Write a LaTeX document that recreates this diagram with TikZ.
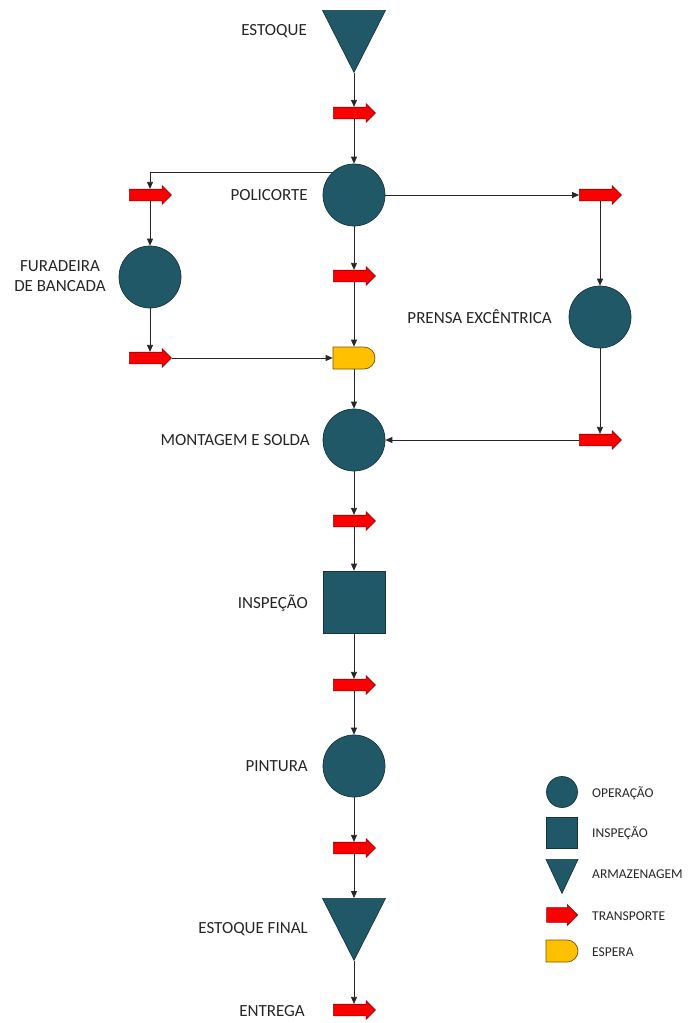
\documentclass[tikz,border=0pt]{standalone}
\usepackage{fontspec}
\setmainfont{Carlito}
\usetikzlibrary{shapes.geometric,shapes.arrows,shapes.misc,arrows.meta}

\definecolor{opteal}{RGB}{33,88,103}
\definecolor{opedge}{RGB}{22,52,62}
\definecolor{trred}{RGB}{250,0,0}
\definecolor{tredge}{RGB}{150,0,0}
\definecolor{waitfill}{RGB}{255,192,0}
\definecolor{waitedge}{RGB}{120,85,0}
\definecolor{labelgray}{RGB}{38,38,38}

\tikzset{
  operation/.style={circle, fill=opteal, draw=opedge, line width=0.7pt,
    minimum size=62, inner sep=0pt},
  inspection/.style={rectangle, fill=opteal, draw=opedge, line width=0.7pt,
    minimum size=62, inner sep=0pt},
  storage/.style={isosceles triangle, isosceles triangle stretches,
    shape border rotate=270, fill=opteal, draw=opedge, line width=0.7pt,
    minimum width=63, minimum height=62, inner sep=0pt, anchor=lower side},
  % the shaft midpoint sits a little left of the arrow's middle
  transport/.style={single arrow, fill=trred, draw=tredge, line width=0.6pt,
    minimum height=42, inner xsep=0pt, inner ysep=5.5pt,
    single arrow head extend=3.5, xshift=-2.5pt},
  waiting/.style={rounded rectangle, rounded rectangle left arc=none,
    fill=waitfill, draw=waitedge, line width=0.7pt,
    minimum width=42, minimum height=22, inner sep=0pt},
  steplabel/.style={text=labelgray, font=\fontsize{17}{19.5}\selectfont, inner sep=0pt},
  keylabel/.style={text=labelgray, font=\fontsize{13.5}{16}\selectfont, inner sep=0pt, anchor=west},
  flow/.style={draw=black!85, line width=0.8pt, -{Triangle[length=7,width=6]}},
}

\begin{document}
\begin{tikzpicture}[x=1pt, y=-1pt]
\useasboundingbox (0,0) rectangle (691,1023);

% main column
\node[storage] (est) at (354,10) {};
\node[transport] (t1) at (354,113) {};
\node[operation] (pc) at (354,195) {};
\node[transport] (t4) at (354,276) {};
\node[waiting] (esp) at (354,358) {};
\node[operation] (mont) at (354,440) {};
\node[transport] (t7) at (354,521) {};
\node[inspection] (insp) at (354,602) {};
\node[transport] (t8) at (354,685) {};
\node[operation] (pin) at (354,766) {};
\node[transport] (t9) at (354,848) {};
\node[storage] (estf) at (354,898) {};
\node[transport] (t10) at (354,1010) {};

% left branch
\node[transport] (t2) at (150,195) {};
\node[operation] (fur) at (150,277) {};
\node[transport] (t3) at (150,358) {};

% right branch
\node[transport] (t5) at (600,195) {};
\node[operation] (pr) at (600,317) {};
\node[transport] (t6) at (600,440) {};

% step labels
\node[steplabel, anchor=east] (l1) at (307,31) {ESTOQUE};
\node[steplabel, anchor=east] (l2) at (308,195) {POLICORTE};
\node[steplabel, align=center] (l3) at (60,276) {FURADEIRA\\DE BANCADA};
\node[steplabel, anchor=east] (l4) at (552,317) {PRENSA EXCÊNTRICA};
\node[steplabel, anchor=east] (l5) at (310,440) {MONTAGEM E SOLDA};
\node[steplabel, anchor=east] (l6) at (308,603) {INSPEÇÃO};
\node[steplabel, anchor=east] (l7) at (308,766) {PINTURA};
\node[steplabel, anchor=east] (l8) at (308,929) {ESTOQUE FINAL};
\node[steplabel, anchor=east] (l9) at (305,1011) {ENTREGA};

% connectors (vertical runs keep to the column of the shape they leave or enter)
\draw[flow] (est.apex) -- (est.apex |- t1.north);
\draw[flow] (t1.south -| pc.north) -- (pc.north);
\draw[flow] (pc.135) -| (fur.north |- t2.north);
\draw[flow] (fur.north |- t2.south) -- (fur.north);
\draw[flow] (fur.south) -- (fur.south |- t3.north);
\draw[flow] (t3.tip) -- (esp.west);
\draw[flow] (pc.south) -- (pc.south |- t4.north);
\draw[flow] (esp.north |- t4.south) -- (esp.north);
\draw[flow] (esp.south) -- (mont.north);
\draw[flow] (pc.east) -- (t5.tail);
\draw[flow] (pr.north |- t5.south) -- (pr.north);
\draw[flow] (pr.south) -- (pr.south |- t6.north);
\draw[flow] (t6.tail) -- (mont.east);
\draw[flow] (mont.south) -- (mont.south |- t7.north);
\draw[flow] (insp.north |- t7.south) -- (insp.north);
\draw[flow] (insp.south) -- (insp.south |- t8.north);
\draw[flow] (pin.north |- t8.south) -- (pin.north);
\draw[flow] (pin.south) -- (pin.south |- t9.north);
\draw[flow] (estf.lower side |- t9.south) -- (estf.lower side);
\draw[flow] (estf.apex) -- (estf.apex |- t10.north);

% key
\node[operation, minimum size=31] (k1) at (562,792) {};
\node[inspection, minimum size=31] (k2) at (562,833) {};
\node[storage, minimum width=32, minimum height=34] (k3) at (562,859) {};
\node[transport, minimum height=31, inner ysep=7pt, single arrow head extend=3, xshift=-1pt] (k4) at (562,915) {};
\node[waiting, minimum width=32, minimum height=22] (k5) at (562,951) {};
\node[keylabel] (kl1) at (592,793) {OPERAÇÃO};
\node[keylabel] (kl2) at (592,833) {INSPEÇÃO};
\node[keylabel] (kl3) at (592,874) {ARMAZENAGEM};
\node[keylabel] (kl4) at (592,916) {TRANSPORTE};
\node[keylabel] (kl5) at (592,952) {ESPERA};
\end{tikzpicture}
\end{document}
